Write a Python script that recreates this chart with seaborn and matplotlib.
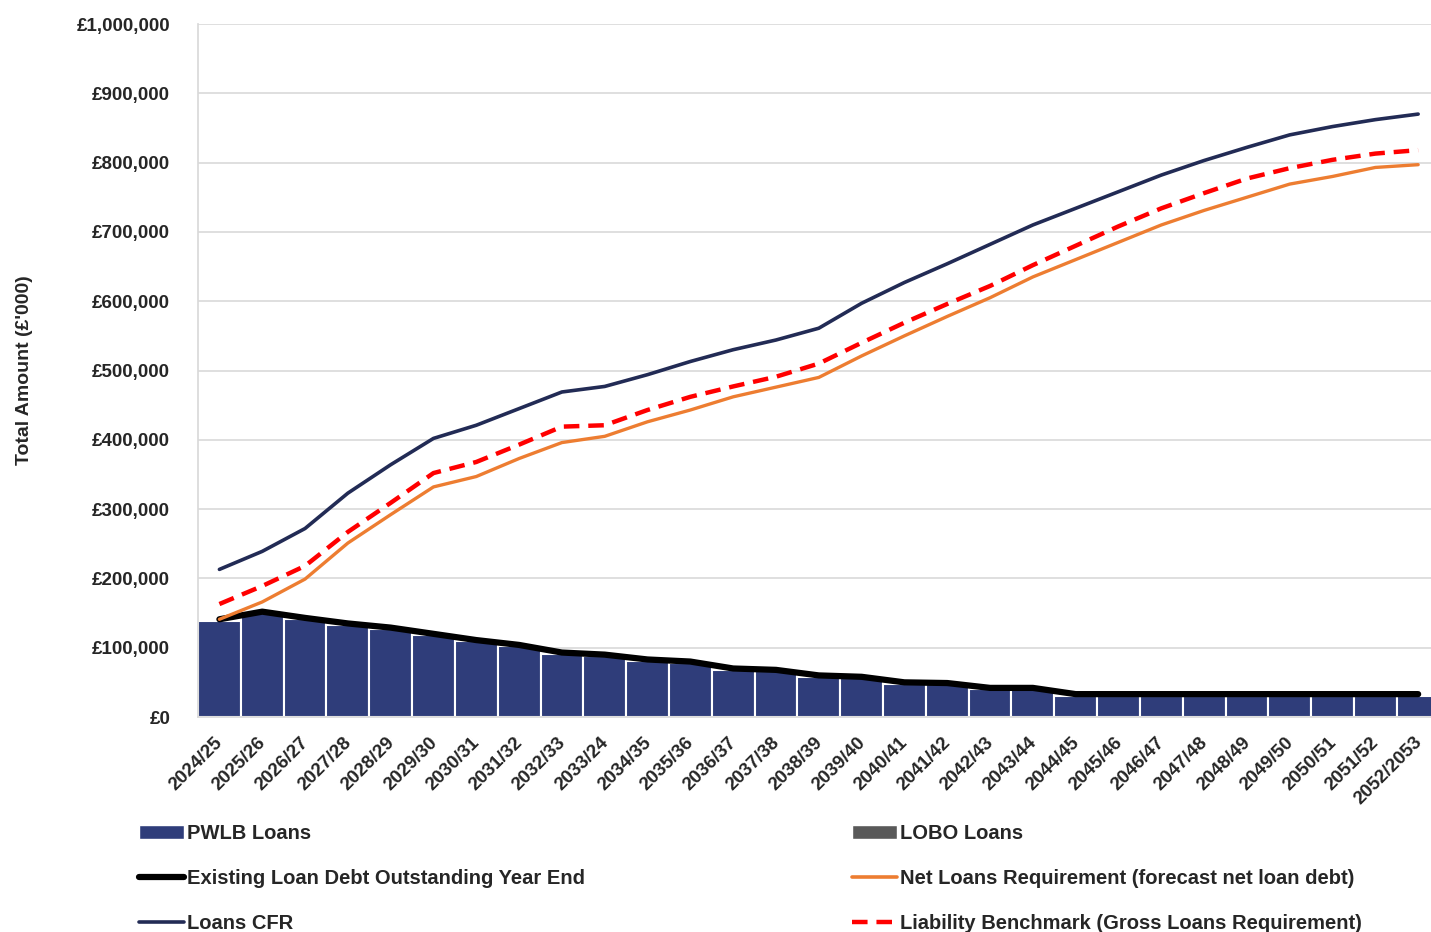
import seaborn as sns
import pandas as pd
import matplotlib.pyplot as plt
import matplotlib.transforms as mtrans
import numpy as np
from matplotlib.patches import Patch
from matplotlib.lines import Line2D
from matplotlib.ticker import FuncFormatter, MultipleLocator

# Years as labelled on the source chart (typo "2033/24" kept)
years = ['2024/25', '2025/26', '2026/27', '2027/28', '2028/29', '2029/30', '2030/31',
         '2031/32', '2032/33', '2033/24', '2034/35', '2035/36', '2036/37', '2037/38',
         '2038/39', '2039/40', '2040/41', '2041/42', '2042/43', '2043/44', '2044/45',
         '2045/46', '2046/47', '2047/48', '2048/49', '2049/50', '2050/51', '2051/52',
         '2052/2053']

# values in £'000
pwlb = [138000, 150000, 141000, 133000, 127000, 118000, 109000, 102000, 91000, 88000,
        81000, 78000, 68000, 66000, 58000, 56000, 48000, 47000, 40000, 40000,
        30000, 30000, 30000, 30000, 30000, 30000, 30000, 30000, 30000]
lobo = [2000] + [0] * 28
existing_debt = [141000, 152000, 143000, 135000, 129000, 120000, 111000, 104000, 93000, 90000,
                 83000, 80000, 70000, 68000, 60000, 58000, 50000, 49000, 42000, 42000,
                 33000, 33000, 33000, 33000, 33000, 33000, 33000, 33000, 33000]
loans_cfr = [213000, 239000, 272000, 323000, 364000, 402000, 421000, 445000, 469000, 477000,
             494000, 513000, 530000, 544000, 561000, 597000, 627000, 654000, 682000, 710000,
             734000, 758000, 782000, 803000, 822000, 840000, 852000, 862000, 870000]
net_loans = [141000, 166000, 199000, 251000, 292000, 332000, 347000, 373000, 396000, 405000,
             426000, 443000, 462000, 476000, 490000, 521000, 550000, 578000, 605000, 635000,
             660000, 685000, 710000, 731000, 750000, 769000, 780000, 793000, 797000]
liability = [163000, 189000, 218000, 267000, 309000, 352000, 368000, 393000, 419000, 421000,
             443000, 462000, 477000, 491000, 510000, 540000, 569000, 596000, 622000, 652000,
             680000, 708000, 734000, 756000, 777000, 792000, 804000, 813000, 818000]

df = pd.DataFrame({'year': years, 'pwlb': pwlb, 'lobo': lobo, 'existing': existing_debt,
                   'cfr': loans_cfr, 'net': net_loans, 'liability': liability})
df['total'] = df['pwlb'] + df['lobo']
df['pos'] = np.arange(len(df))

C_PWLB = '#2F3D7A'
C_LOBO = '#595959'
C_CFR = '#222B55'
C_NET = '#ED7D31'
C_LIAB = '#FF0000'

sns.set_theme(style='whitegrid')
plt.rcParams['font.family'] = ['Liberation Sans', 'DejaVu Sans']

fig = plt.figure(figsize=(14.31, 9.32), dpi=100)
ax = fig.add_axes([198 / 1431, 1 - 717 / 932, (1431 - 198) / 1431, (717 - 24) / 932])

# stacked bars: total (LOBO on top) then PWLB over it
sns.barplot(data=df, x='year', y='total', color=C_LOBO, width=1.0, saturation=1,
            edgecolor='white', linewidth=1.5, ax=ax)
sns.barplot(data=df, x='year', y='pwlb', color=C_PWLB, width=1.0, saturation=1,
            edgecolor='white', linewidth=1.5, ax=ax)

sns.lineplot(data=df, x='pos', y='existing', color='black', linewidth=4.5, ax=ax,
             solid_capstyle='round')
sns.lineplot(data=df, x='pos', y='cfr', color=C_CFR, linewidth=2.6, ax=ax)
sns.lineplot(data=df, x='pos', y='net', color=C_NET, linewidth=2.4, ax=ax)
sns.lineplot(data=df, x='pos', y='liability', color=C_LIAB, linewidth=3.2, ax=ax,
             dashes=False)
ax.lines[-1].set_linestyle((0, (3.5, 2)))

ax.set_xlim(-0.5, 28.3)
ax.set_ylim(0, 1000000)
ax.yaxis.set_major_locator(MultipleLocator(100000))
ax.yaxis.set_major_formatter(FuncFormatter(lambda v, p: f'£{v:,.0f}'))
ax.grid(axis='y', color='#d9d9d9', linewidth=1.2)
ax.grid(axis='x', visible=False)
ax.set_axisbelow(True)
for s in ['top', 'right']:
    ax.spines[s].set_visible(False)
ax.spines['left'].set_color('#d9d9d9')
ax.spines['bottom'].set_color('#d9d9d9')
ax.tick_params(axis='y', length=0, pad=20, labelsize=13.5)
ax.tick_params(axis='x', length=0, pad=12, labelsize=13.5)
for lab in ax.get_yticklabels():
    lab.set_fontweight('bold')
ax.set_xticks(range(len(years)))
ax.set_xticklabels(years, rotation=45, ha='right', rotation_mode='anchor', fontweight='bold')
shift = mtrans.ScaledTranslation(-5 / 100, 0, fig.dpi_scale_trans)
for lab in ax.get_xticklabels():
    lab.set_transform(lab.get_transform() + shift)

ax.set_xlabel('')
ax.set_ylabel("Total Amount (£'000)", fontsize=14, fontweight='bold')
ax.yaxis.set_label_coords(-0.134, 0.5)

h1 = [Patch(facecolor=C_PWLB, label='PWLB Loans'),
      Line2D([0], [0], color='black', linewidth=4.5, label='Existing Loan Debt Outstanding Year End'),
      Line2D([0], [0], color=C_CFR, linewidth=2.6, label='Loans CFR')]
h2 = [Patch(facecolor=C_LOBO, label='LOBO Loans'),
      Line2D([0], [0], color=C_NET, linewidth=2.6, label='Net Loans Requirement (forecast net loan debt)'),
      Line2D([0], [0], color=C_LIAB, linewidth=3.2, linestyle=(0, (3.5, 2)),
             label='Liability Benchmark (Gross Loans Requirement)')]
leg_kw = dict(frameon=False, handlelength=2.25, handletextpad=0.15, labelspacing=1.28,
              prop={'weight': 'bold', 'size': 14.5}, borderaxespad=0, borderpad=0)
fig.legend(handles=h1, loc='upper left', bbox_to_anchor=(139 / 1431, 1 - 824 / 932), **leg_kw)
fig.legend(handles=h2, loc='upper left', bbox_to_anchor=(852 / 1431, 1 - 824 / 932), **leg_kw)

fig.savefig('out.png', dpi=100)
